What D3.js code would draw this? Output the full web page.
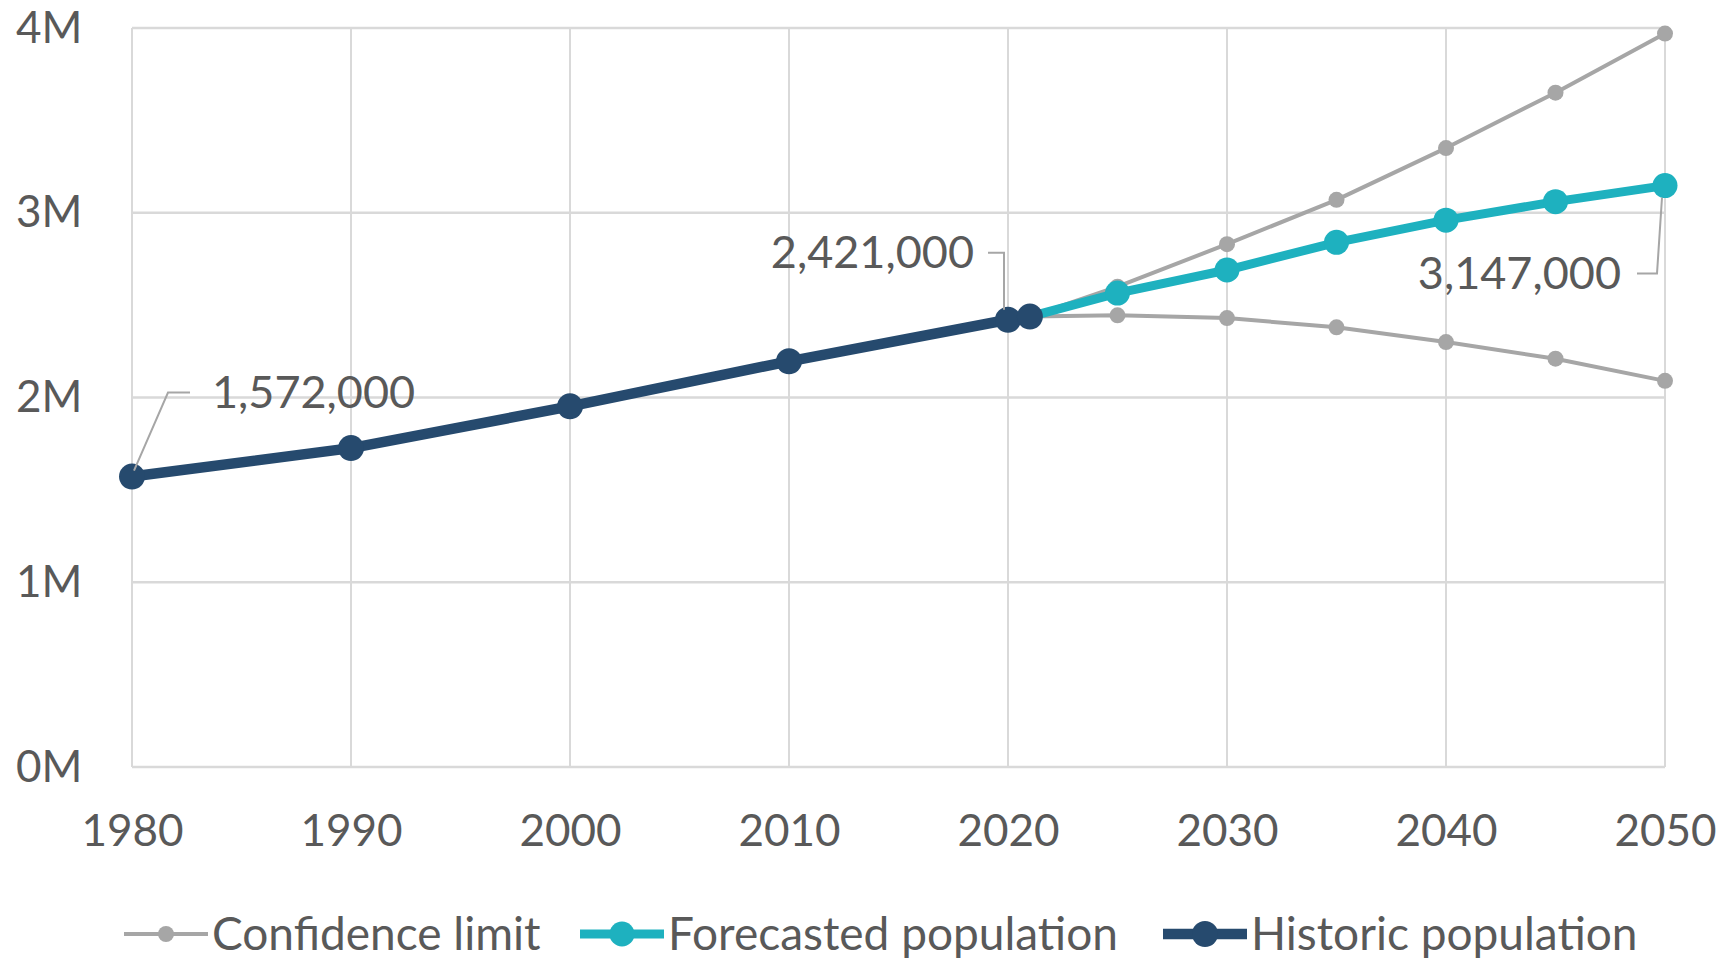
<!DOCTYPE html>
<html>
<head>
<meta charset="utf-8">
<script src="https://cdn.jsdelivr.net/npm/d3@7"></script>
<style>
  body { margin: 0; background: #fff; }
  svg text { font-family: Lato, "Open Sans", sans-serif; fill: #595959; }
</style>
</head>
<body>
<div class="chart"></div>
<script>
;(function () {
  var WIDTH = 1723
  var HEIGHT = 960

  // data
  var historicYears = [1980, 1990, 2000, 2010, 2020, 2021]
  var historicValues = [1572000, 1726000, 1952000, 2196000, 2421000, 2438000]

  var forecastYears = [2021, 2025, 2030, 2035, 2040, 2045, 2050]
  var forecastValues = [2438000, 2565000, 2690000, 2840000, 2960000, 3060000, 3147000]

  var upperYears = [2021, 2025, 2030, 2035, 2040, 2045, 2050]
  var upperValues = [2438000, 2600000, 2830000, 3070000, 3350000, 3650000, 3970000]
  var lowerValues = [2438000, 2445000, 2430000, 2380000, 2300000, 2210000, 2090000]

  var xTicks = [1980, 1990, 2000, 2010, 2020, 2030, 2040, 2050]
  var yTicks = [0, 1000000, 2000000, 3000000, 4000000]

  var legendNames = ['Confidence limit', 'Forecasted population', 'Historic population']

  var GRAY = '#a6a6a6'
  var TEAL = '#1eb1bf'
  var NAVY = '#264a6e'

  var margin = { top: 28, right: 58, bottom: 193, left: 132 }

  var svg = d3.select('.chart').append('svg')
    .attr('width', WIDTH)
    .attr('height', HEIGHT)

  var x = d3.scaleLinear().domain([1980, 2050]).range([margin.left, WIDTH - margin.right])
  var y = d3.scaleLinear().domain([0, 4000000]).range([HEIGHT - margin.bottom, margin.top])

  // grid
  svg.append('g')
    .selectAll('line.h')
    .data(yTicks)
    .enter().append('line')
    .attr('x1', x(1980)).attr('x2', x(2050))
    .attr('y1', function (d) { return y(d) }).attr('y2', function (d) { return y(d) })
    .attr('stroke', '#d9d9d9').attr('stroke-width', 2.5)

  svg.append('g')
    .selectAll('line.v')
    .data(xTicks)
    .enter().append('line')
    .attr('y1', y(0)).attr('y2', y(4000000))
    .attr('x1', function (d) { return x(d) }).attr('x2', function (d) { return x(d) })
    .attr('stroke', '#d9d9d9').attr('stroke-width', 2)

  // axes (labels only)
  var yAxis = svg.append('g')
    .attr('transform', 'translate(' + margin.left + ',0)')
    .call(d3.axisLeft(y).tickValues(yTicks).tickSize(0)
      .tickFormat(function (d) { return (d / 1000000) + 'M' }))
  yAxis.select('.domain').remove()
  yAxis.selectAll('text').style('font-size', '44px').attr('text-anchor', 'start').attr('x', -116)

  var xAxis = svg.append('g')
    .attr('transform', 'translate(0,' + y(0) + ')')
    .call(d3.axisBottom(x).tickValues(xTicks).tickSize(0).tickPadding(48).tickFormat(d3.format('d')))
  xAxis.select('.domain').remove()
  xAxis.selectAll('text').style('font-size', '44px')

  var line = d3.line()
    .x(function (d) { return x(d[0]) })
    .y(function (d) { return y(d[1]) })

  function series (years, values, color, width, r) {
    var pts = d3.zip(years, values)
    svg.append('path')
      .datum(pts)
      .attr('d', line)
      .attr('fill', 'none')
      .attr('stroke', color)
      .attr('stroke-width', width)
      .attr('stroke-linejoin', 'round')
    svg.append('g')
      .selectAll('circle')
      .data(pts.slice(1))
      .enter().append('circle')
      .attr('cx', function (d) { return x(d[0]) })
      .attr('cy', function (d) { return y(d[1]) })
      .attr('r', r)
      .attr('fill', color)
  }

  series(upperYears, upperValues, GRAY, 4, 8)
  series(upperYears, lowerValues, GRAY, 4, 8)
  series(forecastYears, forecastValues, TEAL, 9, 12.5)

  // historic: markers on every point
  var hist = d3.zip(historicYears, historicValues)
  svg.append('path').datum(hist).attr('d', line)
    .attr('fill', 'none').attr('stroke', NAVY).attr('stroke-width', 10.5).attr('stroke-linejoin', 'round')
  svg.append('g').selectAll('circle').data(hist).enter().append('circle')
    .attr('cx', function (d) { return x(d[0]) })
    .attr('cy', function (d) { return y(d[1]) })
    .attr('r', 13)
    .attr('fill', NAVY)

  // data labels with leader lines
  var fmt = d3.format(',')
  function callout (path, tx, ty, anchor, txt) {
    svg.append('path')
      .attr('d', path)
      .attr('fill', 'none')
      .attr('stroke', GRAY)
      .attr('stroke-width', 2)
    svg.append('text')
      .attr('x', tx).attr('y', ty)
      .attr('dy', '0.35em')
      .attr('text-anchor', anchor)
      .style('font-size', '45px')
      .text(txt)
  }

  var p0x = x(historicYears[0]), p0y = y(historicValues[0])
  callout('M' + (p0x + 2) + ',' + (p0y - 6) + 'L' + (p0x + 36) + ',' + (p0y - 84) + 'H' + (p0x + 58),
    p0x + 80, p0y - 84, 'start', fmt(historicValues[0]))

  var p1x = x(historicYears[4]), p1y = y(historicValues[4])
  callout('M' + (p1x - 20) + ',' + (p1y - 67) + 'H' + (p1x - 4) + 'V' + (p1y - 10),
    p1x - 34, p1y - 67, 'end', fmt(historicValues[4]))

  var p2x = x(forecastYears[6]), p2y = y(forecastValues[6])
  callout('M' + (p2x - 28) + ',' + (p2y + 88) + 'H' + (p2x - 8) + 'L' + (p2x - 3) + ',' + (p2y + 12),
    p2x - 44, p2y + 88, 'end', fmt(forecastValues[6]))

  // legend
  var legendColors = [GRAY, TEAL, NAVY]
  var legendX = [124, 580, 1163]
  var legendW = [4, 9, 10.5]
  var legendR = [8, 12.5, 13]
  var LY = 934
  legendNames.forEach(function (name, i) {
    var g = svg.append('g').attr('transform', 'translate(' + legendX[i] + ',' + LY + ')')
    g.append('line').attr('x1', 0).attr('x2', 84).attr('y1', 0).attr('y2', 0)
      .attr('stroke', legendColors[i]).attr('stroke-width', legendW[i])
    g.append('circle').attr('cx', 42).attr('cy', 0).attr('r', legendR[i]).attr('fill', legendColors[i])
    g.append('text').attr('x', 88).attr('dy', '0.35em').style('font-size', '46px').text(name)
  })
})()
</script>
</body>
</html>
